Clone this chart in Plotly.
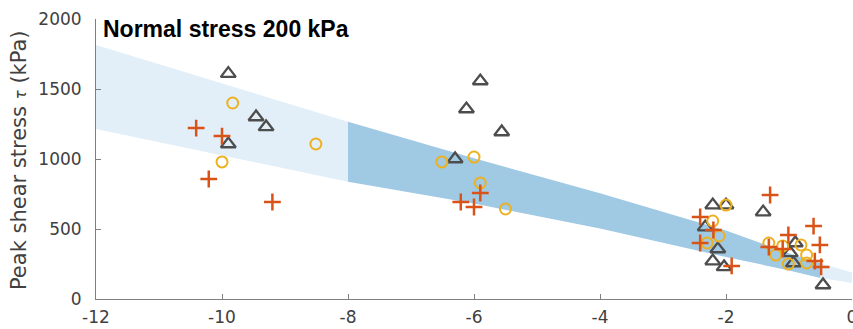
import plotly.graph_objects as go

# ---- data ----
band_x = [-12, -10, -8, -6, -4, -2, -1, -0.5, 0]
band_upper = [1814, 1540, 1266, 1005, 755, 490, 326, 255, 190]
band_lower = [1214, 1026, 838, 682, 503, 300, 204, 150, 115]
dark_from, dark_to = -8, -0.5

tri_x = [-9.9, -9.46, -9.3, -9.9, -5.9, -6.12, -5.56, -6.3, -2.21, -2.0, -1.41,
         -2.33, -2.13, -2.21, -2.03, -0.9, -0.98, -0.93, -0.46]
tri_y = [1610, 1300, 1229, 1107, 1557, 1357, 1193, 1000, 671, 671, 621,
         514, 357, 271, 229, 400, 329, 257, 100]

circ_x = [-9.83, -10.0, -8.51, -6.51, -6.0, -5.9, -5.5, -2.0, -2.21, -2.11, -2.3,
          -1.32, -1.1, -1.21, -1.01, -0.81, -0.72, -0.72]
circ_y = [1400, 979, 1107, 979, 1014, 829, 643, 671, 557, 450, 400,
          400, 379, 314, 250, 386, 314, 257]

plus_x = [-10.41, -10.0, -10.21, -9.2, -5.9, -6.21, -6.0, -1.3, -2.41, -2.2, -2.41,
          -1.91, -1.01, -1.32, -1.1, -0.61, -0.51, -0.59, -0.49]
plus_y = [1221, 1164, 857, 693, 757, 693, 657, 743, 586, 493, 400,
          236, 457, 371, 357, 521, 386, 271, 229]

x_ticks = [-12, -10, -8, -6, -4, -2, 0]
x_tick_text = ["-12", "-10", "-8", "-6", "-4", "-2", "0"]
y_ticks = [0, 500, 1000, 1500, 2000]
y_tick_text = ["0", "500", "1000", "1500", "2000"]

title_text = "Normal stress 200 kPa"
y_title = "Peak shear stress <span style='font-size:15px'><i>τ</i></span> (kPa)"

LIGHT = "rgb(226,239,248)"
DARK = "rgb(160,201,228)"


def interp(x, xs, ys):
    for i in range(len(xs) - 1):
        if xs[i] <= x <= xs[i + 1]:
            t = (x - xs[i]) / (xs[i + 1] - xs[i])
            return ys[i] + t * (ys[i + 1] - ys[i])
    return ys[-1]


def segment(x0, x1):
    xs = [x0] + [v for v in band_x if x0 < v < x1] + [x1]
    up = [interp(v, band_x, band_upper) for v in xs]
    lo = [interp(v, band_x, band_lower) for v in xs]
    return xs + xs[::-1] + [xs[0]], up + lo[::-1] + [up[0]]


fig = go.Figure()
for (a, b, col) in [(band_x[0], dark_from, LIGHT), (dark_from, dark_to, DARK),
                    (dark_to, band_x[-1], LIGHT)]:
    px, py = segment(a, b)
    fig.add_trace(go.Scatter(x=px, y=py, fill="toself", fillcolor=col,
                             mode="lines", line=dict(width=0, color=col),
                             hoverinfo="skip", showlegend=False))

fig.add_trace(go.Scatter(x=tri_x, y=tri_y, mode="markers", showlegend=False,
                         marker=dict(symbol="triangle-up-open", size=13, color="#4d4d4d",
                                     line=dict(width=2.3, color="#4d4d4d"))))
fig.add_trace(go.Scatter(x=circ_x, y=circ_y, mode="markers", showlegend=False,
                         marker=dict(symbol="circle-open", size=11, color="#EDB120",
                                     line=dict(width=2, color="#EDB120"))))
fig.add_trace(go.Scatter(x=plus_x, y=plus_y, mode="markers", showlegend=False,
                         marker=dict(symbol="cross-thin-open", size=12, color="#D95319",
                                     line=dict(width=2.5, color="#D95319"))))

axis_font = dict(family="DejaVu Sans", size=17, color="#404040")
fig.update_layout(
    width=853, height=329,
    margin=dict(l=96, r=1, t=19, b=30),
    plot_bgcolor="white", paper_bgcolor="white",
    xaxis=dict(range=[-12, 0], tickvals=x_ticks, ticktext=x_tick_text,
               showgrid=False, zeroline=False, showline=True, linecolor="#808080",
               linewidth=1, ticks="inside", ticklen=5, tickcolor="#808080",
               tickfont=axis_font, ticklabelstandoff=3, ticklabeloverflow="allow",
               automargin=False),
    yaxis=dict(range=[0, 2000], tickvals=y_ticks, ticktext=y_tick_text,
               showgrid=False, zeroline=False, showline=True, linecolor="#808080",
               linewidth=1, ticks="inside", ticklen=5, tickcolor="#808080",
               tickfont=axis_font, ticklabelstandoff=10, ticklabeloverflow="allow",
               automargin=False),
    annotations=[
        dict(text="<b>" + title_text + "</b>", xref="paper", yref="paper",
             x=0.006, y=0.964, xanchor="left", yanchor="middle", showarrow=False,
             font=dict(family="Liberation Sans", size=23, color="black")),
        dict(text=y_title, xref="paper", yref="paper", x=-0.101, y=0.495,
             xanchor="center", yanchor="middle", textangle=-90, showarrow=False,
             font=dict(family="DejaVu Sans", size=21, color="#404040")),
    ],
)

fig.write_html(
    "out.html",
    config={"displayModeBar": False},
    post_script="document.body.style.margin='0';document.body.style.overflow='hidden';",
)
